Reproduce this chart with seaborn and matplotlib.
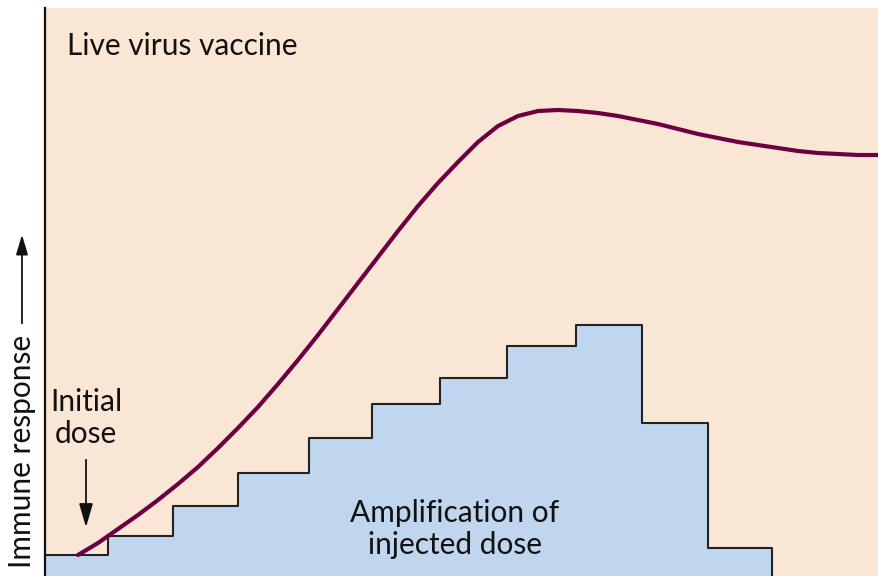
import numpy as np
import pandas as pd
import seaborn as sns
import matplotlib.pyplot as plt

# step edges (left x) and heights of the injected-dose amplification
step_x = [0, 63, 128, 193, 264, 327, 395, 462, 531, 597, 663, 727]
step_h = [21, 40, 70, 103, 138, 172, 198, 230, 251, 153, 28, 0]

# live virus immune response curve
curve_x = [33, 53, 73, 93, 113, 133, 153, 173, 193, 213, 233, 253, 273, 293,
           313, 333, 353, 373, 393, 413, 433, 453, 473, 493, 513, 533, 553,
           573, 593, 613, 633, 653, 673, 693, 713, 733, 753, 773, 793, 813,
           834]
curve_y = [21, 33, 47, 61, 76, 92, 109, 128, 148, 169, 192, 216, 241, 267,
           293, 319, 345, 370, 393, 414, 434, 450, 460, 465, 466, 465, 463,
           460, 456, 452, 447, 442, 438, 434, 431, 428, 425, 423, 422, 421,
           421]

peach = "#fae6d4"
blue = "#c0d6ef"
maroon = "#6d0042"

sns.set_theme(style="white")
plt.rcParams['font.family'] = ['Lato', 'DejaVu Sans']

fig = plt.figure(figsize=(8.79, 5.76), dpi=100)
ax = fig.add_axes([45 / 879, 0, 834 / 879, 568 / 576])
ax.set_facecolor(peach)

steps = pd.DataFrame({"x": step_x, "h": step_h})
ax.fill_between(steps["x"], steps["h"], step="post", color=blue, lw=0, zorder=1)
sns.lineplot(data=steps, x="x", y="h", drawstyle="steps-post", color="#222222",
             lw=1.5, ax=ax, zorder=2, estimator=None)

curve = pd.DataFrame({"x": curve_x, "y": curve_y})
sns.lineplot(data=curve, x="x", y="y", sort=False, estimator=None, color=maroon,
             lw=3, ax=ax, zorder=3)

ax.set_xlim(0, 834)
ax.set_ylim(0, 568)
ax.set_xticks([])
ax.set_yticks([])
ax.set_xlabel("")
ax.set_ylabel("")
for s in ["top", "right", "bottom"]:
    ax.spines[s].set_visible(False)
ax.spines["left"].set_color("#111111")
ax.spines["left"].set_linewidth(1.6)

fs = 21.5
ax.text(22, 530, "Live virus vaccine", fontsize=fs, color="#111111", va="center", ha="left")
ax.text(41, 158, "Initial\ndose", fontsize=fs, color="#111111", ha="center",
        va="center", linespacing=1.2)
ax.annotate("", xy=(41, 46), xytext=(41, 119),
            arrowprops=dict(arrowstyle="-|>,head_width=0.35,head_length=1.2",
                            color="#111111", lw=1.3))
ax.text(410, 47, "Amplification of\ninjected dose", fontsize=fs, color="#111111",
        ha="center", va="center", linespacing=1.2)

# y label with arrow, outside the axes
fig.text(22 / 879, 1 - 335 / 576, "Immune response", rotation=90, fontsize=fs,
         color="#111111", ha="center", va="top")
ax.annotate("", xy=(22 / 879, 1 - 232 / 576), xytext=(22 / 879, 1 - 326 / 576),
            xycoords="figure fraction", textcoords="figure fraction",
            arrowprops=dict(arrowstyle="-|>,head_width=0.3,head_length=1.0",
                            color="#111111", lw=1.3))

fig.savefig("out.png", dpi=100, facecolor="white")
